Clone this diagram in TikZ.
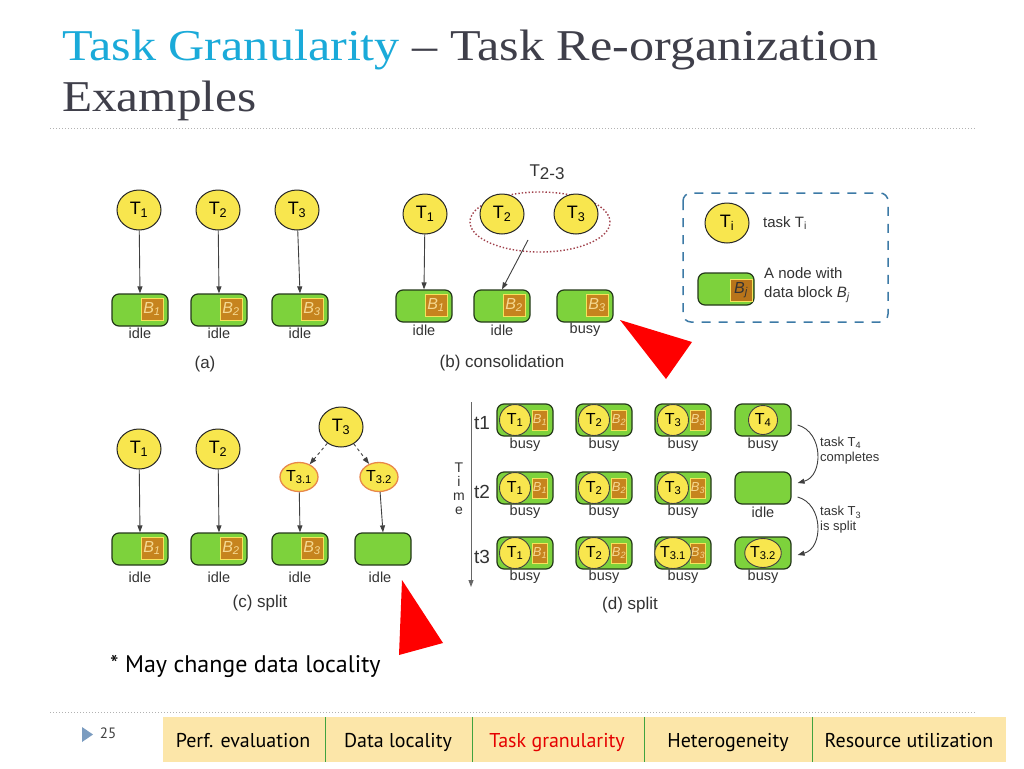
\documentclass[tikz,border=0pt]{standalone}
\usepackage{fontspec}
\setmainfont{Liberation Serif}
\newfontfamily\dfont{Liberation Sans}
\newfontfamily\gfont{PT Sans}
\usetikzlibrary{shapes.geometric,arrows.meta,calc}
\definecolor{tyellow}{HTML}{F8E64E}
\definecolor{lgreen}{HTML}{7DD23C}
\definecolor{dgreen}{HTML}{24381A}
\definecolor{bbrown}{HTML}{C6841E}
\definecolor{bline}{HTML}{F6E35A}
\definecolor{btext}{HTML}{F5D890}
\definecolor{tcyan}{HTML}{1AAAD9}
\definecolor{tgray}{HTML}{3F3F4A}
\definecolor{legblue}{HTML}{3D7AA6}
\definecolor{ellred}{HTML}{A0404A}
\definecolor{tanbar}{HTML}{FCE6A9}
\definecolor{sepgreen}{HTML}{3FA33F}
\definecolor{ftri}{HTML}{7B9CC0}
\definecolor{orng}{HTML}{E8874A}
\definecolor{lblk}{HTML}{B8741A}
\tikzset{
  task/.style={ellipse, draw=black!85, fill=tyellow, line width=1pt, minimum width=44pt, minimum height=40pt, inner sep=0pt, font=\dfont\fontsize{18}{18}\selectfont},
  subtask/.style={task, draw=orng, line width=1.3pt, minimum width=38pt, minimum height=29pt, font=\dfont\fontsize{16}{16}\selectfont},
  dnode/.style={rectangle, rounded corners=7pt, draw=dgreen, fill=lgreen, line width=1.2pt, minimum width=56pt, minimum height=32pt, inner sep=0pt},
  blk/.style={rectangle, fill=bbrown, draw=bline, line width=0.8pt, minimum width=22pt, minimum height=22pt, inner sep=0pt, text=btext, font=\dfont\itshape\fontsize{16}{16}\selectfont},
  dtask/.style={ellipse, draw=black!75, fill=tyellow, line width=0.9pt, minimum width=31pt, minimum height=31pt, inner sep=0pt, font=\dfont\fontsize{16}{16}\selectfont},
  dblk/.style={rectangle, fill=bbrown, draw=bline, line width=0.6pt, minimum width=15pt, minimum height=20pt, inner sep=0pt, text=btext, font=\dfont\itshape\fontsize{13}{13}\selectfont},
  lbl/.style={font=\dfont\fontsize{14.5}{14.5}\selectfont, text=black!80, inner sep=0pt},
  captxt/.style={font=\dfont\fontsize{17}{17}\selectfont, text=black!80, inner sep=0pt},
  arr/.style={-{Triangle[length=7pt,width=5pt]}, line width=0.9pt, draw=black!75},
  darr/.style={arr, dashed},
  gtxt/.style={font=\gfont\fontsize{20}{20}\selectfont, inner sep=0pt, text=black},
  ftxt/.style={gtxt, anchor=base}
}
\begin{document}
\begin{tikzpicture}[x=1pt,y=-1pt]
\useasboundingbox (0,0) rectangle (1024,768);
\fill[white] (0,0) rectangle (1024,768);
% title
\node[anchor=base west, font=\fontsize{44}{44}\selectfont, inner sep=0pt] (title1) at (62,60) {\scalebox{1.14}[1]{\textcolor{tcyan}{Task Granularity} \textcolor{tgray}{– Task Re-organization}}};
\node[anchor=base west, font=\fontsize{44}{44}\selectfont, inner sep=0pt, text=tgray] (title2) at (62,111) {\scalebox{1.12}[1]{Examples}};
\coordinate (sepA) at (50,128); \coordinate (sepB) at (975,128);
\draw[black!30, dotted, line width=1pt] (sepA) -- (sepB);

% panel (a)
\foreach \i/\x/\bx in {1/139/140, 2/218/219, 3/297/300}{
  \node[task] (ta\i) at (\x,210) {T\textsubscript{\i}};
  \node[dnode] (ba\i) at (\bx,310) {};
  \node[blk] (bla\i) at ($(ba\i.center)+(12,-1)$) {B\textsubscript{\i}};
  \node[lbl] (la\i) at (\bx,333) {idle};
  \draw[arr] (ta\i) -- (ba\i.north);
}
\node[captxt] (capa) at (205,364) {(a)};

% panel (b)
\node[ellipse, draw=ellred, dotted, line width=1.4pt, minimum width=140pt, minimum height=60pt] (eb) at (540,222) {};
\node[font=\dfont\fontsize{17}{17}\selectfont, text=black!80, inner sep=0pt] (t23) at (547,172) {T\raisebox{-3pt}{2-3}};
\node[task] (tb1) at (425,214) {T\textsubscript{1}};
\node[task] (tb2) at (502,214) {T\textsubscript{2}};
\node[task] (tb3) at (576,214) {T\textsubscript{3}};
\foreach \i/\bx/\st in {1/424/idle, 2/502/idle, 3/585/busy}{
  \node[dnode] (bb\i) at (\bx,306) {};
  \node[blk] (blb\i) at ($(bb\i.center)+(12,-1)$) {B\textsubscript{\i}};
  \node[lbl] (lb\i) at (\bx,330) {\st};
}
\draw[arr] (tb1) -- (bb1.north);
\coordinate (ebp) at (528,240);
\draw[arr] (ebp) -- (bb2.north);
\node[captxt] (capb) at (502,363) {(b) consolidation};

% legend
\coordinate (lgA) at (683,193); \coordinate (lgB) at (888,322);
\draw[legblue, line width=1.5pt, dash pattern=on 9pt off 8pt, rounded corners=8pt] (lgA) rectangle (lgB);
\node[task] (tleg) at (727,223) {T\textsubscript{i}};
\node[lbl, anchor=west, font=\dfont\fontsize{15}{15}\selectfont] (tlegt) at (763,223) {task T\textsubscript{i}};
\node[dnode] (bleg) at (726,289) {};
\node[blk, fill=lblk, text=black!80] (blegb) at (741,290) {B\textsubscript{j}};
\node[lbl, anchor=west, align=left, font=\dfont\fontsize{15}{19}\selectfont] (blegt) at (764,285) {A node with\\data block \textit{B\textsubscript{j}}};

% red triangles
\coordinate (r1a) at (620,320); \coordinate (r1b) at (692,342); \coordinate (r1c) at (666,379);
\fill[red] (r1a) -- (r1b) -- (r1c) -- cycle;
\coordinate (r2a) at (402,580); \coordinate (r2b) at (443,643); \coordinate (r2c) at (399,655);
\fill[red] (r2a) -- (r2b) -- (r2c) -- cycle;

% panel (c)
\node[task] (tc1) at (139,449) {T\textsubscript{1}};
\node[task] (tc2) at (218,449) {T\textsubscript{2}};
\node[task] (tc3) at (341,427) {T\textsubscript{3}};
\node[subtask] (tc31) at (299,477) {T\textsubscript{3.1}};
\node[subtask] (tc32) at (379,477) {T\textsubscript{3.2}};
\node[dnode] (bc1) at (140,549) {};
\node[dnode] (bc2) at (219,549) {};
\node[dnode] (bc3) at (300,549) {};
\node[dnode] (bc4) at (383,549) {};
\node[blk] (blc1) at ($(bc1.center)+(12,-1)$) {B\textsubscript{1}};
\node[blk] (blc2) at ($(bc2.center)+(12,-1)$) {B\textsubscript{2}};
\node[blk] (blc3) at ($(bc3.center)+(12,-1)$) {B\textsubscript{3}};
\node[lbl] (lc1) at (140,577) {idle};
\node[lbl] (lc2) at (219,577) {idle};
\node[lbl] (lc3) at (300,577) {idle};
\node[lbl] (lc4) at (380,577) {idle};
\draw[arr] (tc1) -- (bc1.north);
\draw[arr] (tc2) -- (bc2.north);
\draw[arr] (tc31) -- (bc3.north);
\draw[arr] (tc32) -- (bc4.north);
\draw[darr] (tc3) -- (tc31);
\draw[darr] (tc3) -- (tc32);
\node[captxt] (capc) at (260,603) {(c) split};

% panel (d)
\coordinate (tstart) at (471,402); \coordinate (tend) at (471,587);
\draw[arr, draw=black!60] (tstart) -- (tend);
\node[lbl, align=center, font=\dfont\fontsize{14}{14}\selectfont] (timel) at (459,489) {T\\i\\m\\e};
\node[lbl, font=\dfont\fontsize{19}{19}\selectfont] (tt1) at (482,423) {t1};
\node[lbl, font=\dfont\fontsize{19}{19}\selectfont] (tt2) at (482,492) {t2};
\node[lbl, font=\dfont\fontsize{19}{19}\selectfont] (tt3) at (482,557) {t3};
\foreach \r/\y/\ly in {1/420/445, 2/488/512, 3/553/577}{
  \foreach \c/\x in {1/525, 2/604, 3/683}{
    \node[dnode] (d\c\r) at (\x,\y) {};
    \node[dblk] (db\c\r) at ($(d\c\r.center)+(15,0)$) {B\textsubscript{\c}};
    \node[lbl] (dl\c\r) at (\x,\ly) {busy};
  }
  \node[dnode] (d4\r) at (763,\y) {};
}
\foreach \c/\x in {1/525, 2/604}{
  \foreach \r/\y in {1/420, 2/488, 3/553}{
    \node[dtask] (dt\c\r) at ($(d\c\r.center)+(-10,0)$) {T\textsubscript{\c}};
  }
}
\node[dtask] (dt31) at ($(d31.center)+(-10,0)$) {T\textsubscript{3}};
\node[dtask] (dt32) at ($(d32.center)+(-10,0)$) {T\textsubscript{3}};
\node[dtask] (dt33) at ($(d33.center)+(-10,0)$) {T\textsubscript{3.1}};
\node[dtask, minimum width=29pt, minimum height=29pt] (dt41) at (d41.center) {T\textsubscript{4}};
\node[dtask, minimum width=29pt, minimum height=29pt] (dt43) at (d43.center) {T\textsubscript{3.2}};
\node[lbl] (dl41) at (763,445) {busy};
\node[lbl] (dl42) at (763,512) {idle};
\node[lbl] (dl43) at (763,577) {busy};
\draw[arr] ([shift={(6,5)}]d41.east) .. controls +(26,7) and +(26,-7) .. ([shift={(6,-5)}]d42.east);
\draw[arr] ([shift={(6,9)}]d42.east) .. controls +(26,7) and +(26,-7) .. ([shift={(6,2)}]d43.east);
\node[lbl, anchor=west, align=left, font=\dfont\fontsize{13}{15}\selectfont] (c1t) at (820,451) {task T\textsubscript{4}\\completes};
\node[lbl, anchor=west, align=left, font=\dfont\fontsize{13}{15}\selectfont] (c2t) at (820,520) {task T\textsubscript{3}\\is split};
\node[captxt] (capd) at (630,605) {(d) split};

% note
\node[gtxt, anchor=base west, font=\gfont\fontsize{24}{24}\selectfont] (note) at (110,672) {* May change data locality};

% footer
\coordinate (fsA) at (50,712); \coordinate (fsB) at (975,712);
\draw[black!30, dotted, line width=1pt] (fsA) -- (fsB);
\coordinate (ft1) at (82,727); \coordinate (ft2) at (82,742); \coordinate (ft3) at (93,734.5);
\fill[ftri] (ft1) -- (ft2) -- (ft3) -- cycle;
\node[gtxt, anchor=base, font=\gfont\fontsize{15}{15}\selectfont, text=black!75] (pnum) at (108,738) {25};
\coordinate (barA) at (163,717); \coordinate (barB) at (1006,762);
\fill[tanbar] (barA) rectangle (barB);
\foreach \x in {325,472,644,812}{
  \draw[sepgreen, line width=1pt] (\x,717) -- (\x,762);
}
\node[ftxt] (f1) at (243,747) {Perf. evaluation};
\node[ftxt] (f2) at (398,747) {Data locality};
\node[ftxt, text=red!90!black] (f3) at (557,747) {Task granularity};
\node[ftxt] (f4) at (728,747) {Heterogeneity};
\node[ftxt] (f5) at (909,747) {Resource utilization};
\end{tikzpicture}
\end{document}
